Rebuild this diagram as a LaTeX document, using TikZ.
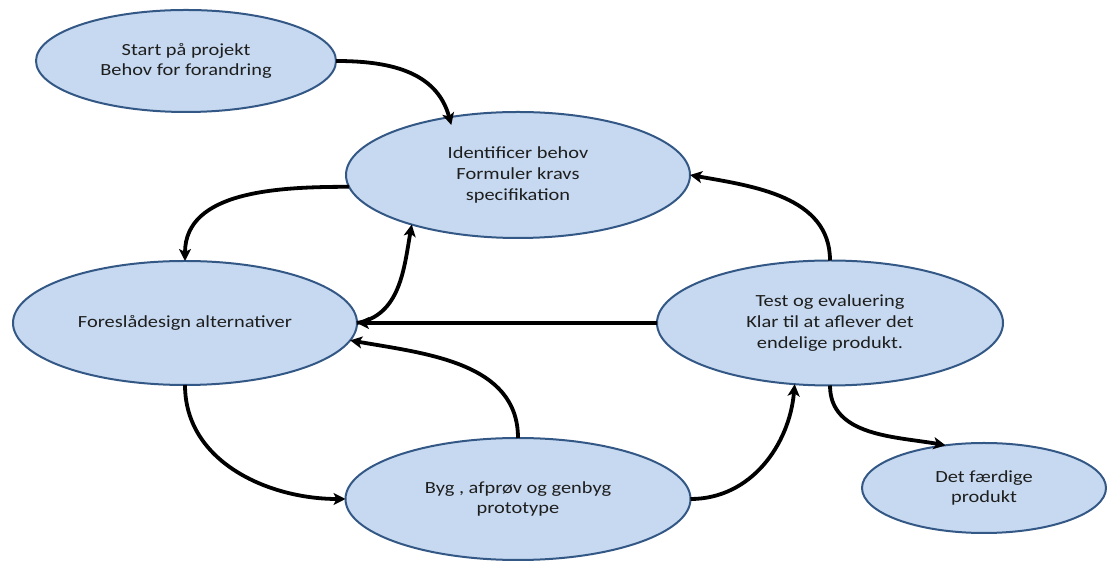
\documentclass[tikz,border=0pt]{standalone}
\usepackage{fontspec}
\setmainfont{Carlito}[FakeStretch=1.2]
\usetikzlibrary{arrows.meta,shapes.geometric}
\definecolor{bubblefill}{RGB}{198,217,240}
\definecolor{bubbleline}{RGB}{52,88,134}
\definecolor{labeltext}{RGB}{30,30,30}
\begin{document}
\begin{tikzpicture}[x=1pt,y=1pt,
  bubble/.style={ellipse, draw=bubbleline, line width=2pt, fill=bubblefill,
    inner sep=0pt, outer sep=0pt, align=center, text=labeltext,
    font=\fontsize{17}{20.7}\selectfont},
  flow/.style={line width=3.8pt,
    -{Stealth[length=12pt,width=12pt,inset=3pt]}}]
\useasboundingbox (0,0) rectangle (1107,561);

% process stages
\node[bubble, minimum width=300pt, minimum height=102pt] (start) at (186,500)
  {Start på projekt\\Behov for forandring};
\node[bubble, minimum width=344pt, minimum height=126pt] (ident) at (518,386)
  {Identificer behov\\Formuler kravs\\specifikation};
\node[bubble, minimum width=344pt, minimum height=124pt] (design) at (185,238)
  {Foreslådesign alternativer};
\node[bubble, minimum width=346pt, minimum height=125pt] (test) at (830,238)
  {Test og evaluering\\Klar til at aflever det\\endelige produkt.};
\node[bubble, minimum width=345pt, minimum height=122pt] (build) at (518,62)
  {Byg , afprøv og genbyg\\prototype};
\node[bubble, minimum width=244pt, minimum height=90pt] (done) at (984,73)
  {Det færdige\\produkt};

% transitions between stages
\draw[flow, shorten >=-8pt] (start.east) to[out=0, in=105] (ident.140);
\draw[flow] (ident.184) to[out=180, in=90] (design.north);
\draw[flow] (design.east) to[out=10, in=-100] (ident.205);
\draw[flow] (test.west) -- (design.east);
\draw[flow] (build.north) to[out=90, in=-10] (design.-6);
\draw[flow] (design.south) to[out=-90, in=180] (build.west);
\draw[flow] (build.east) to[out=0, in=-95] (test.240);
\draw[flow] (test.north) to[out=90, in=-10] (ident.east);
\draw[flow] (test.south) to[out=-90, in=170] (done.132);
\end{tikzpicture}
\end{document}
